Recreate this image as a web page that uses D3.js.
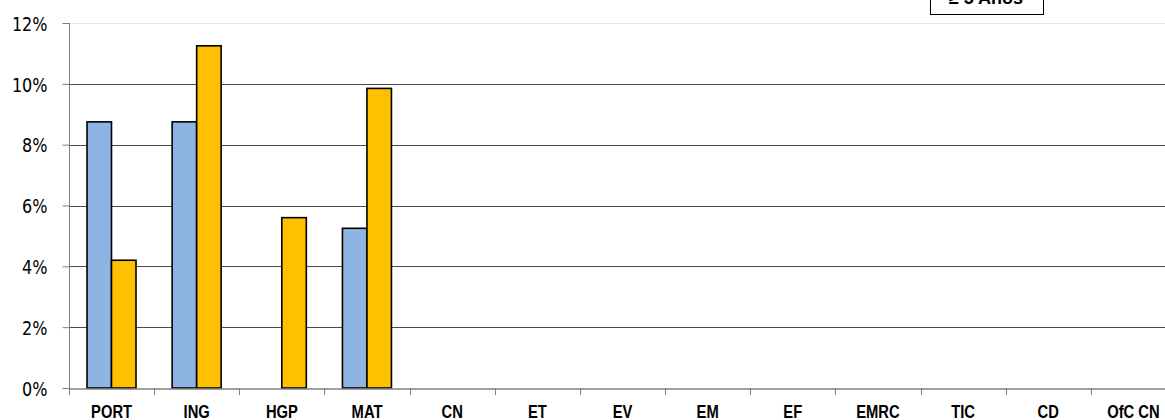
<!DOCTYPE html>
<html>
<head>
<meta charset="utf-8">
<script src="https://cdn.jsdelivr.net/npm/d3@7"></script>
<style>
  body { margin: 0; background: #fff; overflow: hidden; }
  svg { display: block; }
</style>
</head>
<body>
<svg id="chart" width="1165" height="420"></svg>
<script>
// categories and values (percent)
var categories = ["PORT", "ING", "HGP", "MAT", "CN", "ET", "EV", "EM", "EF", "EMRC", "TIC", "CD", "OfC CN"];
var seriesNames = ["a", "b"];
var seriesA = [8.75, 8.75, null, 5.25, null, null, null, null, null, null, null, null, null];
var seriesB = [4.2, 11.25, 5.6, 9.85, null, null, null, null, null, null, null, null, null];
var yTicks = [0, 2, 4, 6, 8, 10, 12];
var legendLabel = "\u2265 5 Anos";

var colors = ["#8EB4E3", "#FFC000"];

var svg = d3.select("#chart");
var plotLeft = 69, plotTop = 23, plotBottom = 388;
var band = 85.15;

var x = d3.scaleBand()
	.domain(categories)
	.range([plotLeft, plotLeft + band * categories.length])
	.paddingInner(0).paddingOuter(0);

var x1 = d3.scaleBand()
	.domain(seriesNames)
	.range([18, 67]);

var y = d3.scaleLinear()
	.domain([0, 12])
	.range([plotBottom, plotTop]);

// grid lines
svg.append("g").selectAll("line")
	.data(yTicks.filter(function(d) { return d > 0; }))
	.enter().append("line")
		.attr("x1", plotLeft).attr("x2", 1165)
		.attr("y1", function(d) { return Math.round(y(d)) + 0.5; })
		.attr("y2", function(d) { return Math.round(y(d)) + 0.5; })
		.attr("stroke", function(d) { return d == 12 ? "#e6e6e6" : "#4a4a4a"; })
		.attr("stroke-width", 1);

// bars
var data = [];
categories.forEach(function(c, i) {
	if (seriesA[i] != null) data.push({cat: c, s: "a", v: seriesA[i], color: colors[0]});
	if (seriesB[i] != null) data.push({cat: c, s: "b", v: seriesB[i], color: colors[1]});
});

svg.append("g").selectAll("rect")
	.data(data)
	.enter().append("rect")
		.attr("x", function(d) { return x(d.cat) + x1(d.s); })
		.attr("width", x1.bandwidth())
		.attr("y", function(d) { return y(d.v); })
		.attr("height", function(d) { return plotBottom - y(d.v); })
		.attr("fill", function(d) { return d.color; })
		.attr("stroke", "#000")
		.attr("stroke-width", 1.6);

// y axis
var yAxis = d3.axisLeft(y)
	.tickValues(yTicks)
	.tickFormat(function(d) { return d + "%"; })
	.tickSize(7);

var gy = svg.append("g")
	.attr("transform", "translate(" + (plotLeft + 0.5) + ",0)")
	.call(yAxis);
gy.select(".domain").attr("stroke", "#808080").attr("d", "M0," + plotTop + "V" + (plotBottom + 7));
gy.selectAll(".tick line").attr("stroke", "#808080");
gy.selectAll(".tick text")
	.attr("x", 0)
	.attr("dy", "0.36em")
	.attr("transform", "translate(-22,0) scale(0.8,1)")
	.attr("fill", "#000")
	.style("font-family", "'DejaVu Sans', sans-serif")
	.style("font-size", "20px");

// x axis
var xAxis = d3.axisBottom(x)
	.tickSize(0)
	.tickPadding(0);

var gx = svg.append("g")
	.attr("transform", "translate(0," + (plotBottom + 0.5) + ")")
	.call(xAxis);
gx.select(".domain").attr("stroke", "#808080").attr("stroke-width", 1.5);
gx.selectAll(".tick text")
	.attr("y", 0)
	.attr("dy", null)
	.attr("transform", "translate(0,29.5) scale(0.82,1)")
	.attr("fill", "#000")
	.style("font-family", "'Liberation Sans', Arial, sans-serif")
	.style("font-weight", "bold")
	.style("font-size", "18px");

// tick marks between categories
svg.append("g").selectAll("line")
	.data(categories)
	.enter().append("line")
		.attr("x1", function(d) { return Math.round(x(d) + band) + 0.5; })
		.attr("x2", function(d) { return Math.round(x(d) + band) + 0.5; })
		.attr("y1", plotBottom).attr("y2", plotBottom + 7)
		.attr("stroke", "#808080");

// legend box (cut by top edge)
svg.append("rect")
	.attr("x", 930.5).attr("y", -10)
	.attr("width", 113).attr("height", 24.5)
	.attr("fill", "#fff")
	.attr("stroke", "#000")
	.attr("stroke-width", 1);
svg.append("text")
	.attr("x", 986).attr("y", 4)
	.attr("text-anchor", "middle")
	.style("font-family", "'Liberation Sans', Arial, sans-serif")
	.style("font-weight", "bold")
	.style("font-size", "18px")
	.text(legendLabel);
</script>
</body>
</html>
